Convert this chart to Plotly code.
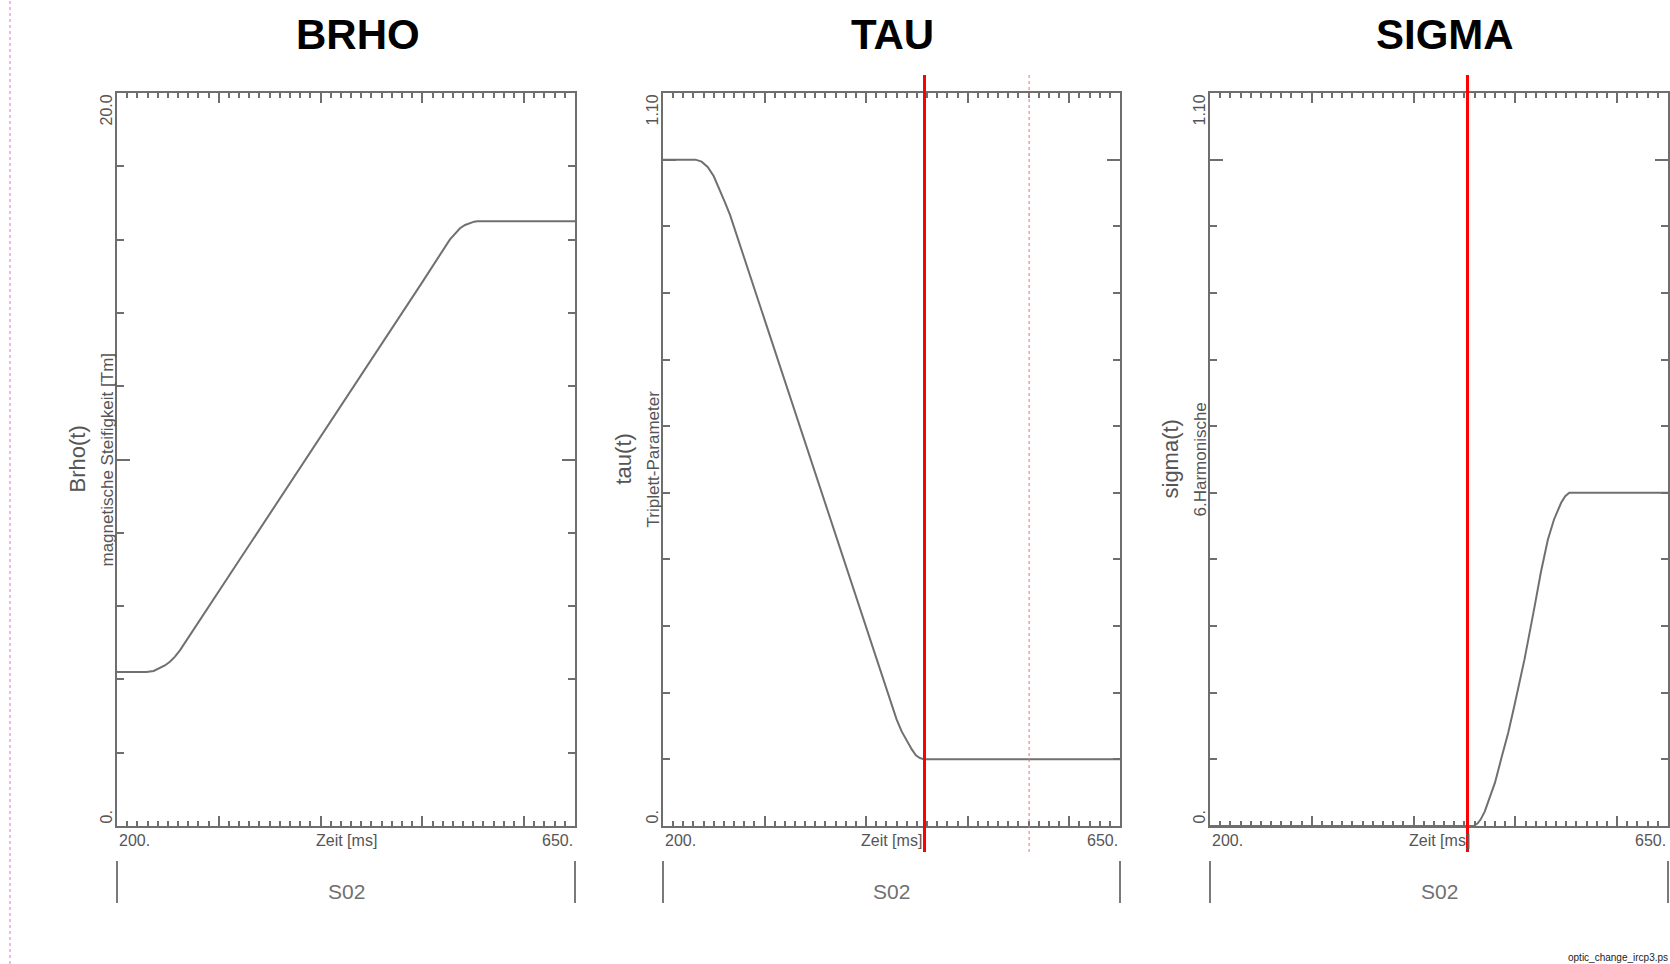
import plotly.graph_objects as go

# ---------------- data ----------------
time_brho = [200, 229, 236, 242, 247, 252, 257, 262, 300, 400, 500, 527, 532, 537, 542, 547, 551, 554, 650]
brho_vals = [4.2, 4.2, 4.23, 4.3, 4.38, 4.48, 4.62, 4.8, 6.4, 10.62, 14.84, 16.0, 16.17, 16.31, 16.40, 16.46, 16.49, 16.5, 16.5]

time_tau = [200, 232, 238, 244, 250, 256, 261, 266, 300, 350, 400, 426, 430, 435, 440, 445, 449, 453, 457, 650]
tau_vals = [1.0, 1.0, 0.997, 0.989, 0.975, 0.955, 0.936, 0.917, 0.760, 0.529, 0.298, 0.175, 0.160, 0.142,
            0.128, 0.115, 0.106, 0.102, 0.1, 0.1]

time_sigma = [200, 459, 463, 466, 470, 473, 480, 486, 493, 499, 509, 519, 525, 532, 538, 545, 549, 553, 650]
sigma_vals = [0, 0, 0.004, 0.01, 0.022, 0.035, 0.065, 0.1, 0.14, 0.18, 0.25, 0.33, 0.38, 0.43, 0.46, 0.485,
              0.495, 0.5, 0.5]

panel_titles = ["BRHO", "TAU", "SIGMA"]
y_labels = ["Brho(t)", "tau(t)", "sigma(t)"]
y_sublabels = ["magnetische Steifigkeit [Tm]", "Triplett-Parameter", "6.Harmonische"]
y_max_labels = ["20.0", "1.10", "1.10"]
y_min_label = "0."
y_ranges = [[0, 20.0], [0, 1.10], [0, 1.10]]
y_major = [10.0, 1.0, 1.0]
y_minor = [2.0, 0.1, 0.1]
x_range = [200, 650]
x_tick_labels = ["200.", "650."]
x_title = "Zeit [ms]"
segment_label = "S02"
cursor_time_tau = 457.5
cursor_time_sigma = 453.0
ref_time_tau = 560.5
file_label = "optic_change_ircp3.ps"

# ---------------- styling / layout ----------------
W, H = 1670, 964
AX = "#6e6e6e"
TXT = "#555555"
FONT = "Arial, Liberation Sans, sans-serif"

x_domains = [[117 / W, 575 / W], [663 / W, 1120 / W], [1210 / W, 1668 / W]]
y_domain = [1 - 826 / H, 1 - 93 / H]
title_x = [358 / W, 892 / W, 1445 / W]

fig = go.Figure()

series = [(time_brho, brho_vals), (time_tau, tau_vals), (time_sigma, sigma_vals)]
layout_axes = {}
annotations = []
shapes = []

for i in range(3):
    xn = "x" if i == 0 else f"x{i+1}"
    yn = "y" if i == 0 else f"y{i+1}"
    xkey = "xaxis" if i == 0 else f"xaxis{i+1}"
    ykey = "yaxis" if i == 0 else f"yaxis{i+1}"

    t, v = series[i]
    fig.add_trace(go.Scatter(x=t, y=v, mode="lines", xaxis=xn, yaxis=yn,
                             line=dict(color="#707070", width=2),
                             hoverinfo="skip", showlegend=False))

    layout_axes[xkey] = dict(
        domain=x_domains[i], anchor=yn, range=x_range, showline=True, linecolor=AX,
        linewidth=2, mirror="ticks", ticks="inside", ticklen=10, tickwidth=1.5,
        tickcolor=AX, tick0=0, dtick=100, showticklabels=False, showgrid=False,
        zeroline=False, fixedrange=True,
        minor=dict(ticks="inside", dtick=10, tick0=0, ticklen=5, tickwidth=1.5,
                   tickcolor=AX, showgrid=False),
    )
    layout_axes[ykey] = dict(
        domain=y_domain, anchor=xn, range=y_ranges[i], showline=True, linecolor=AX,
        linewidth=2, mirror="ticks", ticks="inside", ticklen=13, tickwidth=1.5,
        tickcolor=AX, tick0=0, dtick=y_major[i], showticklabels=False,
        showgrid=False, zeroline=False, fixedrange=True,
        minor=dict(ticks="inside", dtick=y_minor[i], tick0=0, ticklen=7, tickwidth=1.5,
                   tickcolor=AX, showgrid=False),
    )

    xd = f"{xn} domain"
    yd = f"{yn} domain"

    # panel title
    annotations.append(dict(text=panel_titles[i], xref="paper", yref="paper",
                            x=title_x[i], y=1 - 35 / H, xanchor="center", yanchor="middle",
                            showarrow=False,
                            font=dict(family=FONT, size=42, color="black", weight="bold")))
    # y labels
    annotations.append(dict(text=y_labels[i], xref=xd, yref=yd, x=0, y=0.5, xshift=-40,
                            textangle=-90, showarrow=False, xanchor="center", yanchor="middle",
                            font=dict(family=FONT, size=22, color=TXT)))
    annotations.append(dict(text=y_sublabels[i], xref=xd, yref=yd, x=0, y=0.5, xshift=-10,
                            textangle=-90, showarrow=False, xanchor="center", yanchor="middle",
                            font=dict(family=FONT, size=17, color=TXT)))
    # y end labels
    annotations.append(dict(text=y_max_labels[i], xref=xd, yref=yd, x=0, y=1, xshift=-11,
                            textangle=-90, showarrow=False, xanchor="center", yanchor="top",
                            font=dict(family=FONT, size=16, color=TXT)))
    annotations.append(dict(text=y_min_label, xref=xd, yref=yd, x=0, y=0, xshift=-11,
                            textangle=-90, showarrow=False, xanchor="center", yanchor="bottom",
                            font=dict(family=FONT, size=16, color=TXT)))
    # x labels
    annotations.append(dict(text=x_tick_labels[0], xref=xd, yref=yd, x=0, y=0, yshift=-4,
                            showarrow=False, xanchor="left", yanchor="top",
                            font=dict(family=FONT, size=16, color=TXT)))
    annotations.append(dict(text=x_tick_labels[1], xref=xd, yref=yd, x=1, y=0, yshift=-4,
                            showarrow=False, xanchor="right", yanchor="top",
                            font=dict(family=FONT, size=16, color=TXT)))
    annotations.append(dict(text=x_title, xref=xd, yref=yd, x=0.5, y=0, yshift=-4,
                            showarrow=False, xanchor="center", yanchor="top",
                            font=dict(family=FONT, size=16, color=TXT)))
    # segment label and bars
    annotations.append(dict(text=segment_label, xref=xd, yref="paper", x=0.5, y=1 - 891 / H,
                            showarrow=False, xanchor="center", yanchor="middle",
                            font=dict(family=FONT, size=21, color="#707070")))
    for xe in (0, 1):
        shapes.append(dict(type="line", xref=xd, yref="paper", x0=xe, x1=xe,
                           y0=1 - 903 / H, y1=1 - 861 / H,
                           line=dict(color="#7a7a7a", width=2)))

# cursor lines
shapes.append(dict(type="line", xref="x2", yref="paper", x0=ref_time_tau, x1=ref_time_tau,
                   y0=1 - 852 / H, y1=1 - 75 / H, line=dict(color="#ff6a6a", width=1, dash="dot")))
shapes.append(dict(type="line", xref="x2", yref="paper", x0=cursor_time_tau, x1=cursor_time_tau,
                   y0=1 - 852 / H, y1=1 - 75 / H, line=dict(color="#ff0000", width=3)))
shapes.append(dict(type="line", xref="x3", yref="paper", x0=cursor_time_sigma, x1=cursor_time_sigma,
                   y0=1 - 852 / H, y1=1 - 75 / H, line=dict(color="#ff0000", width=3)))

# pink page margin line
shapes.append(dict(type="line", xref="paper", yref="paper", x0=10 / W, x1=10 / W, y0=0, y1=1,
                   line=dict(color="#f4b6ee", width=2, dash="dot")))

# file label
annotations.append(dict(text=file_label, xref="paper", yref="paper", x=1, y=1 - 957 / H,
                        showarrow=False, xanchor="right", yanchor="middle",
                        font=dict(family=FONT, size=10, color="#222222")))

fig.update_layout(
    width=W, height=H, margin=dict(l=0, r=0, t=0, b=0), autosize=False,
    paper_bgcolor="white", plot_bgcolor="white", showlegend=False,
    annotations=annotations, shapes=shapes, **layout_axes,
)

fig.write_html("out.html")
